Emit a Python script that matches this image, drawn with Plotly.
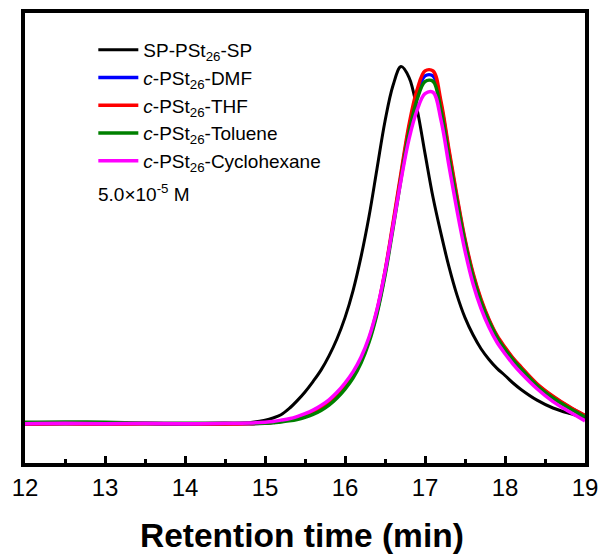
import plotly.graph_objects as go

# Retention time grid (min)
time_min = [12.0, 12.5, 13.0, 13.5, 14.0, 14.5, 14.8,
            15.0, 15.1, 15.2, 15.3, 15.4, 15.5, 15.6, 15.7, 15.8, 15.9,
            16.0, 16.1, 16.2, 16.3, 16.4, 16.5, 16.6, 16.7, 16.8, 16.9,
            17.0, 17.1, 17.2, 17.3, 17.4, 17.5, 17.6, 17.7, 17.8, 17.9,
            18.0, 18.1, 18.2, 18.4, 18.6, 18.8, 19.0]

sp_pst_sp = [-0.002, -0.001, -0.002, -0.001, -0.002, -0.002, 0.001,
             0.008, 0.014, 0.023, 0.04, 0.062, 0.087, 0.116, 0.148, 0.188, 0.236,
             0.295, 0.37, 0.465, 0.578, 0.712, 0.845, 0.945, 0.998, 0.968, 0.88,
             0.755, 0.632, 0.53, 0.437, 0.358, 0.295, 0.247, 0.208, 0.178, 0.153,
             0.133, 0.112, 0.094, 0.064, 0.042, 0.027, 0.015]

c_dmf = [-0.003, -0.002, -0.002, -0.002, -0.003, -0.002, -0.002,
         0.0, 0.002, 0.005, 0.009, 0.014, 0.02, 0.029, 0.041, 0.057, 0.077,
         0.102, 0.133, 0.175, 0.232, 0.311, 0.42, 0.553, 0.692, 0.825, 0.919,
         0.972, 0.972, 0.89, 0.757, 0.628, 0.51, 0.415, 0.343, 0.287, 0.242,
         0.209, 0.18, 0.155, 0.108, 0.073, 0.045, 0.02]

c_thf = [-0.003, -0.002, -0.003, -0.002, -0.002, -0.003, -0.002,
         0.0, 0.002, 0.005, 0.009, 0.014, 0.021, 0.03, 0.042, 0.058, 0.079,
         0.104, 0.136, 0.178, 0.235, 0.315, 0.425, 0.56, 0.70, 0.835, 0.932,
         0.986, 0.986, 0.9, 0.765, 0.635, 0.515, 0.42, 0.347, 0.29, 0.245,
         0.212, 0.182, 0.157, 0.11, 0.075, 0.046, 0.021]

c_toluene = [0.002, 0.003, 0.002, 0.0, -0.001, 0.0, -0.001,
             -0.001, 0.001, 0.003, 0.006, 0.01, 0.016, 0.024, 0.035, 0.05, 0.07,
             0.095, 0.126, 0.168, 0.226, 0.306, 0.413, 0.545, 0.684, 0.814, 0.905,
             0.956, 0.957, 0.875, 0.745, 0.62, 0.505, 0.41, 0.339, 0.284, 0.24,
             0.206, 0.177, 0.152, 0.105, 0.07, 0.042, 0.017]

c_cyclohexane = [-0.002, -0.001, -0.002, -0.001, -0.002, -0.001, 0.0,
                 0.002, 0.004, 0.008, 0.012, 0.018, 0.026, 0.036, 0.049, 0.065, 0.086,
                 0.112, 0.143, 0.184, 0.24, 0.318, 0.423, 0.55, 0.68, 0.795, 0.875,
                 0.922, 0.926, 0.848, 0.72, 0.595, 0.482, 0.39, 0.321, 0.268, 0.226,
                 0.194, 0.165, 0.14, 0.096, 0.06, 0.032, 0.006]

names = ["SP-PSt<sub>26</sub>-SP",
         "<i>c</i>-PSt<sub>26</sub>-DMF",
         "<i>c</i>-PSt<sub>26</sub>-THF",
         "<i>c</i>-PSt<sub>26</sub>-Toluene",
         "<i>c</i>-PSt<sub>26</sub>-Cyclohexane"]
series = [sp_pst_sp, c_dmf, c_thf, c_toluene, c_cyclohexane]
colors = ["#000000", "#0000FF", "#FF0000", "#008000", "#FF00FF"]
widths = [3, 3.5, 3.5, 3.5, 3.5]

fig = go.Figure()
for n, s, c, w in zip(names, series, colors, widths):
    fig.add_trace(go.Scatter(x=time_min, y=s, mode="lines", name=n,
                             line=dict(color=c, width=w, shape="spline", smoothing=1.0)))

fig.update_layout(
    width=605, height=556,
    margin=dict(l=25, r=20, t=13, b=93),
    paper_bgcolor="white", plot_bgcolor="white",
    font=dict(family="Liberation Sans, Arial, sans-serif", color="black"),
    showlegend=True,
    legend=dict(x=0.122, y=0.96, xanchor="left", yanchor="top",
                bgcolor="rgba(0,0,0,0)", font=dict(size=19), tracegroupgap=0,
                itemwidth=40),
    xaxis=dict(range=[12, 19], dtick=1, tick0=12, showgrid=False, zeroline=False,
               showline=True, linecolor="black", linewidth=4, mirror=True,
               ticks="inside", ticklen=7, tickwidth=3, tickcolor="black",
               tickfont=dict(size=24), automargin=False,
               minor=dict(dtick=0.5, ticks="inside", ticklen=4, tickwidth=3, tickcolor="black")),
    yaxis=dict(range=[-0.112, 1.148], showgrid=False, zeroline=False, showticklabels=False,
               ticks="", showline=True, linecolor="black", linewidth=4, mirror=True,
               automargin=False),
    annotations=[
        dict(text="5.0×10<sup>-5</sup> M", x=0.127, y=0.6, xref="paper", yref="paper",
             xanchor="left", yanchor="middle", showarrow=False, font=dict(size=19)),
        dict(text="<b>Retention time (min)</b>", x=0.495, y=-0.16, xref="paper", yref="paper",
             xanchor="center", yanchor="middle", showarrow=False, font=dict(size=33.5)),
    ],
)

fig.write_html("out.html")
